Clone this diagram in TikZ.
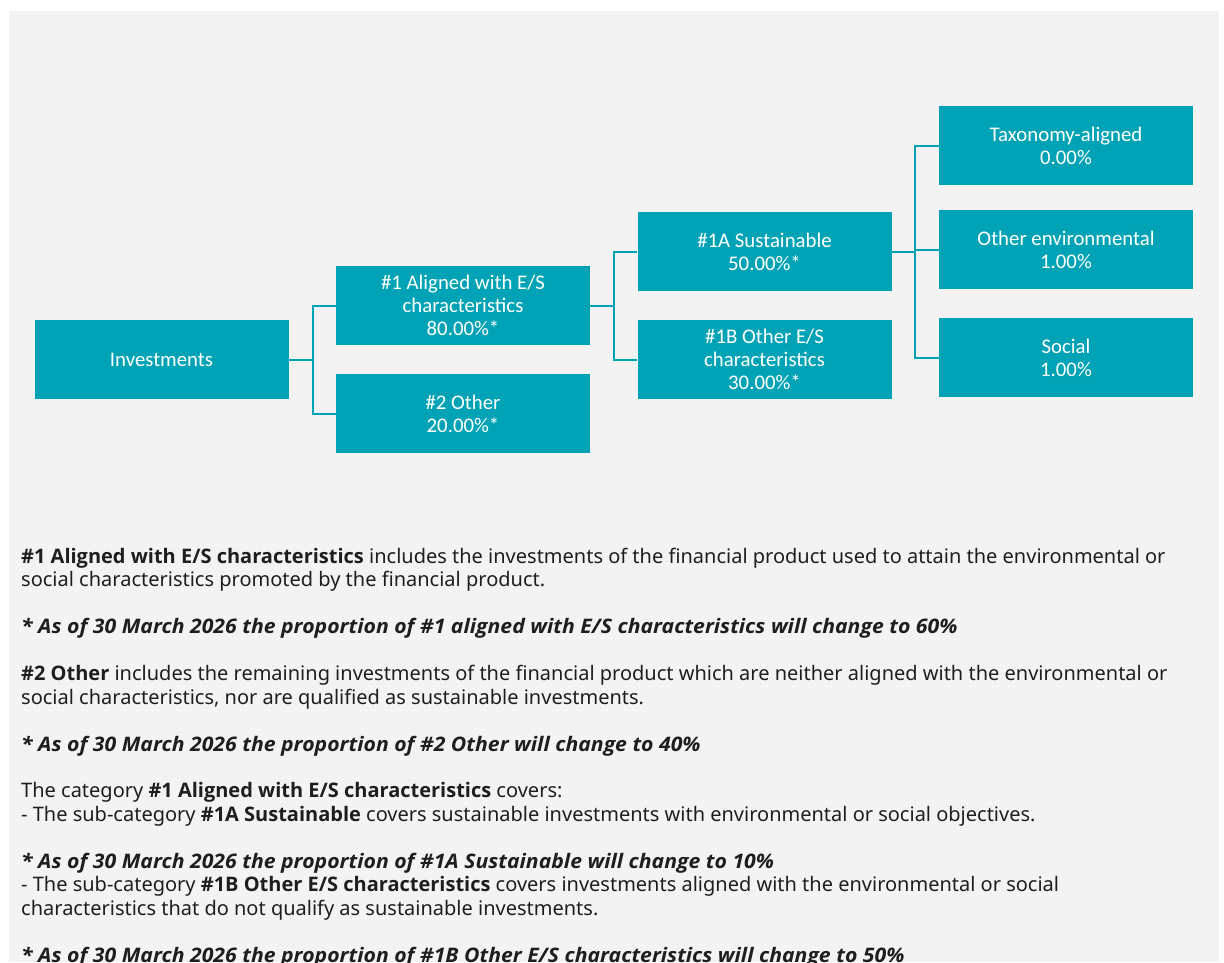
\documentclass[tikz,border=0pt]{standalone}
\usepackage{fontspec}
\setmainfont{Noto Sans}
\newfontfamily\bfam{Open Sans}
\newfontfamily\nfam{Open Sans}[FakeStretch=1.06]
\newfontfamily\boxfont{Carlito}
\newcommand{\B}[1]{{\bfam\bfseries #1}}
\definecolor{teal1}{HTML}{00A3B5}
\definecolor{bg}{HTML}{F3F3F3}
\definecolor{txt}{HTML}{1E1E1E}
\begin{document}
\begin{tikzpicture}[x=1pt,y=-1pt,
  box/.style={fill=teal1, text=white, font=\boxfont\fontsize{20.8}{23}\selectfont, align=center,
    minimum width=254pt, minimum height=79pt, inner sep=0pt},
  conn/.style={draw=teal1, line width=2pt},
  body/.style={anchor=base west, inner sep=0pt, text=txt, font=\fontsize{20}{23.4}\selectfont},
  note/.style={body, font=\fontsize{20}{23.4}\selectfont\nfam\bfseries\itshape}]
\useasboundingbox (0,0) rectangle (1224,962);
\fill[white] (0,0) rectangle (1224,962);
\fill[bg] (9,11) rectangle (1219,962);

% boxes
\node[box] (inv) at (161.5,359.5) {Investments};
\node[box] (a1) at (463,305.5) {\#1 Aligned with E/S\\characteristics\\80.00\%*};
\node[box] (o2) at (463,413.5) {\#2 Other\\20.00\%*};
\node[box] (s1a) at (764.5,251.5) {\#1A Sustainable\\50.00\%*};
\node[box] (s1b) at (764.5,359.5) {\#1B Other E/S\\characteristics\\30.00\%*};
\node[box] (tax) at (1066,145.5) {Taxonomy-aligned\\0.00\%};
\node[box] (env) at (1066,249.5) {Other environmental\\1.00\%};
\node[box] (soc) at (1066,357.5) {Social\\1.00\%};

% junctions
\coordinate (j1) at (312.5,359.5);
\coordinate (j2) at (613.75,305.5);
\coordinate (j3) at (915.25,251.5);

\draw[conn] (inv.east) -- (j1);
\draw[conn] (j1) |- (a1.west);
\draw[conn] (j1) |- (o2.west);
\draw[conn] (a1.east) -- (j2);
\draw[conn] (j2) |- (s1a.west);
\draw[conn] (j2) |- (s1b.west);
\draw[conn] (s1a.east) -- (j3);
\draw[conn] (j3) |- (tax.west);
\draw[conn] (j3) |- (env.west);
\draw[conn] (j3) |- (soc.west);

% text
\node[body] (t1) at (21,563.4) {\B{\#1 Aligned with E/S characteristics} includes the investments of the financial product used to attain the environmental or};
\node[body] (t2) at (21,586.85) {social characteristics promoted by the financial product.};
\node[note] (t3) at (21,633.75) {* As of 30 March 2026 the proportion of \#1 aligned with E/S characteristics will change to 60\%};
\node[body] (t4) at (21,680.65) {\B{\#2 Other} includes the remaining investments of the financial product which are neither aligned with the environmental or};
\node[body] (t5) at (21,704.1) {social characteristics, nor are qualified as sustainable investments.};
\node[note] (t6) at (21,751) {* As of 30 March 2026 the proportion of \#2 Other will change to 40\%};
\node[body] (t7) at (21,797.9) {The category \B{\#1 Aligned with E/S characteristics} covers:};
\node[body] (t8) at (21,821.35) {- The sub-category \B{\#1A Sustainable} covers sustainable investments with environmental or social objectives.};
\node[note] (t9) at (21,868.25) {* As of 30 March 2026 the proportion of \#1A Sustainable will change to 10\%};
\node[body] (t10) at (21,891.7) {- The sub-category \B{\#1B Other E/S characteristics} covers investments aligned with the environmental or social};
\node[body] (t11) at (21,915.15) {characteristics that do not qualify as sustainable investments.};
\node[note] (t12) at (21,962.05) {* As of 30 March 2026 the proportion of \#1B Other E/S characteristics will change to 50\%};
\end{tikzpicture}
\end{document}
